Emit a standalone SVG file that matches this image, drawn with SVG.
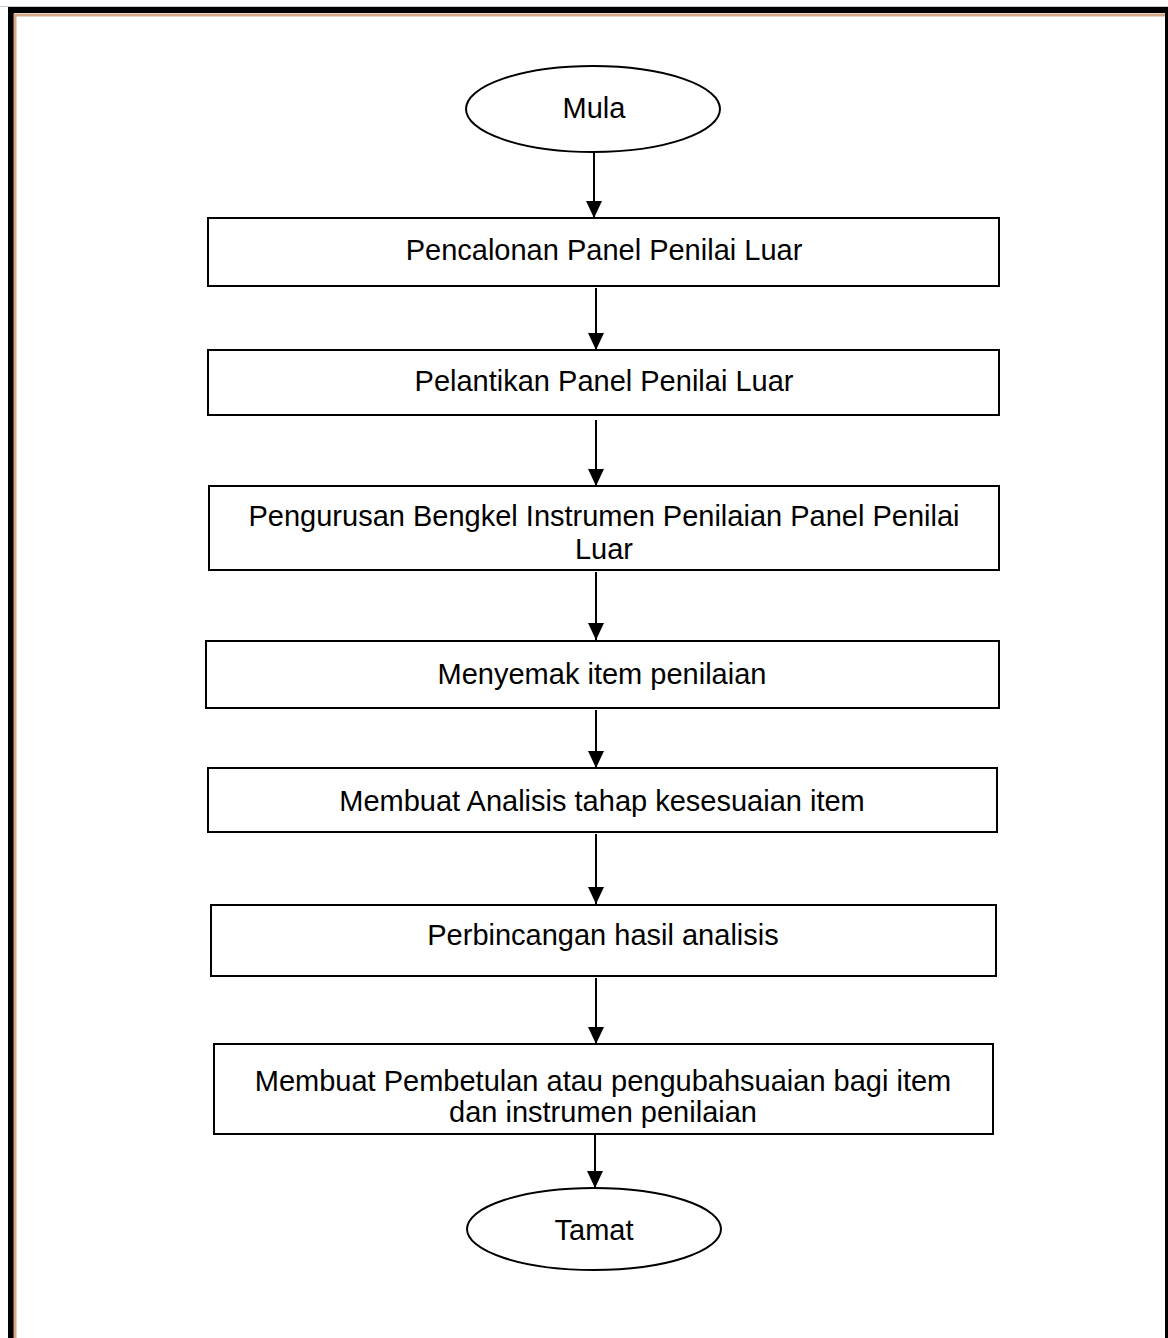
<svg xmlns="http://www.w3.org/2000/svg" width="1168" height="1338" viewBox="0 0 1168 1338">
<style>
.box{fill:#fff;stroke:#000;stroke-width:2}
.t{font-family:"Liberation Sans",Arial,sans-serif;font-size:29px;fill:#000;text-anchor:middle}
.c{stroke:#000;stroke-width:2;fill:none}
</style>
<defs>
<marker id="a" markerWidth="17" markerHeight="16" refX="17" refY="8" orient="auto" markerUnits="userSpaceOnUse" viewBox="0 0 17 16">
<path d="M0,0 L17,8 L0,16 Z" fill="#000"/>
</marker>
</defs>
<rect x="0" y="0" width="1168" height="1338" fill="#fff"/>
<g id="frame">
<line x1="0" y1="6.5" x2="1168" y2="6.5" stroke="#c8c8c8" stroke-width="1"/>
<path d="M11,1338 V10 H1168" stroke="#000" stroke-width="6" fill="none"/>
<path d="M15,1338 V15 H1168" stroke="#d4a888" stroke-width="3" fill="none"/>
<line x1="1166.5" y1="8" x2="1166.5" y2="1338" stroke="#000" stroke-width="3"/>
</g>
<g id="connectors">
<line class="c" x1="594" y1="153" x2="594" y2="218" marker-end="url(#a)"/>
<line class="c" x1="596" y1="288" x2="596" y2="350" marker-end="url(#a)"/>
<line class="c" x1="596" y1="420" x2="596" y2="486" marker-end="url(#a)"/>
<line class="c" x1="596" y1="572" x2="596" y2="640" marker-end="url(#a)"/>
<line class="c" x1="596" y1="710" x2="596" y2="768" marker-end="url(#a)"/>
<line class="c" x1="596" y1="834" x2="596" y2="904" marker-end="url(#a)"/>
<line class="c" x1="596" y1="978" x2="596" y2="1044" marker-end="url(#a)"/>
<line class="c" x1="595" y1="1134" x2="595" y2="1188" marker-end="url(#a)"/>
</g>
<g id="mula">
<ellipse class="box" cx="593" cy="109" rx="127" ry="43"/>
<text class="t" x="594" y="118">Mula</text>
</g>
<g id="n1">
<rect class="box" x="208" y="218" width="791" height="68"/>
<text class="t" x="604" y="260">Pencalonan Panel Penilai Luar</text>
</g>
<g id="n2">
<rect class="box" x="208" y="350" width="791" height="65"/>
<text class="t" x="604" y="391">Pelantikan Panel Penilai Luar</text>
</g>
<g id="n3">
<rect class="box" x="209" y="486" width="790" height="84"/>
<text class="t" x="604" y="526">Pengurusan Bengkel Instrumen Penilaian Panel Penilai</text>
<text class="t" x="604" y="559">Luar</text>
</g>
<g id="n4">
<rect class="box" x="206" y="641" width="793" height="67"/>
<text class="t" x="602" y="684">Menyemak item penilaian</text>
</g>
<g id="n5">
<rect class="box" x="208" y="768" width="789" height="64"/>
<text class="t" x="602" y="811">Membuat Analisis tahap kesesuaian item</text>
</g>
<g id="n6">
<rect class="box" x="211" y="905" width="785" height="71"/>
<text class="t" x="603" y="945">Perbincangan hasil analisis</text>
</g>
<g id="n7">
<rect class="box" x="214" y="1044" width="779" height="90"/>
<text class="t" x="603" y="1091">Membuat Pembetulan atau pengubahsuaian bagi item</text>
<text class="t" x="603" y="1122">dan instrumen penilaian</text>
</g>
<g id="tamat">
<ellipse class="box" cx="594" cy="1229" rx="127" ry="41"/>
<text class="t" x="594" y="1240">Tamat</text>
</g>
</svg>
